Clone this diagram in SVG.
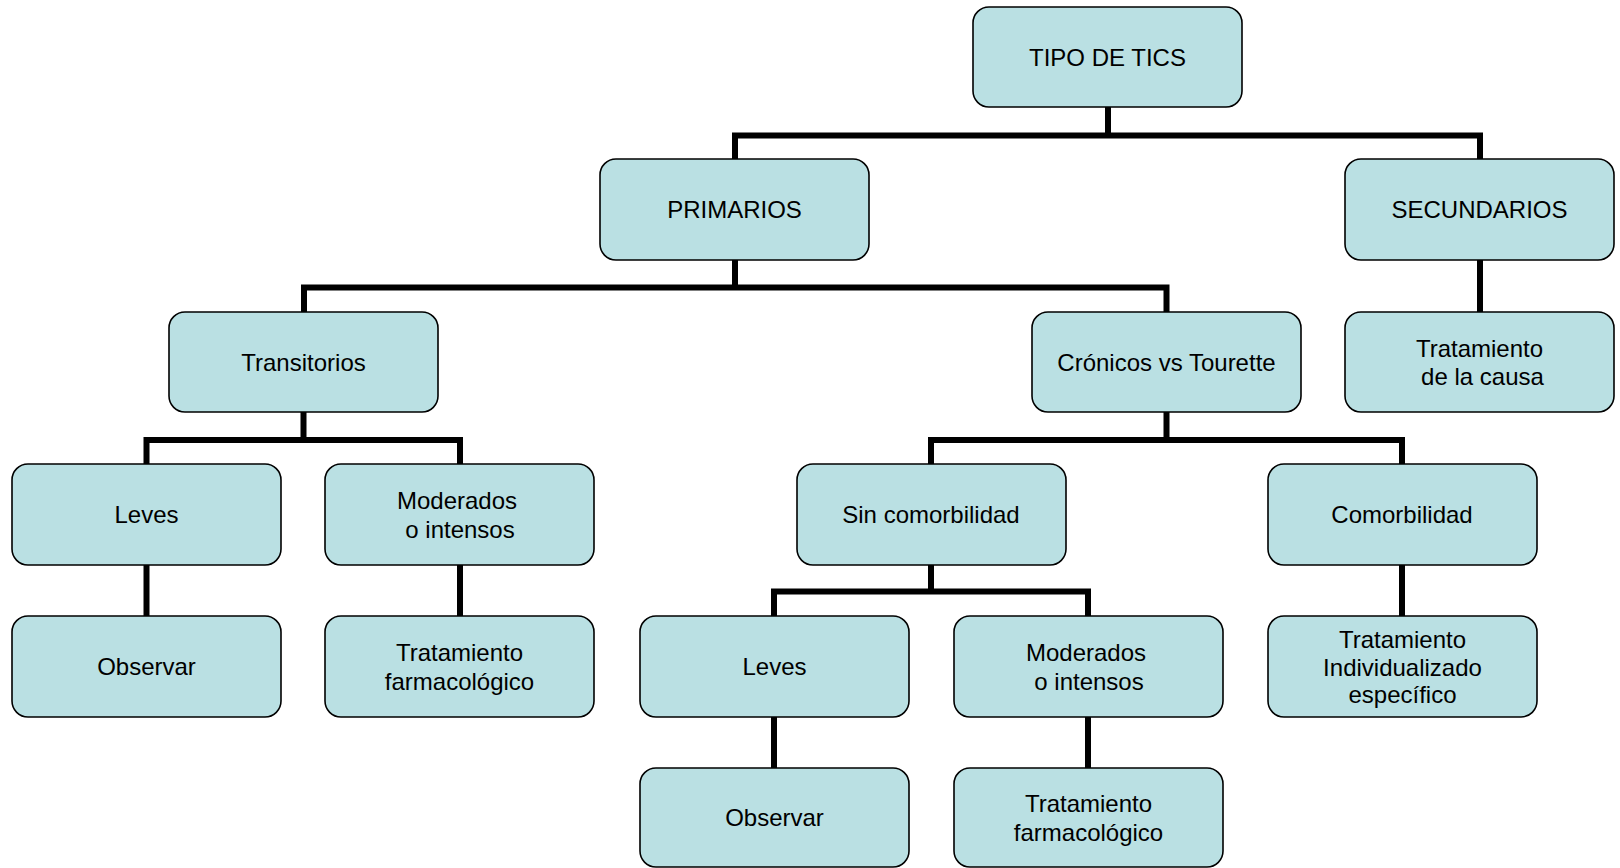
<svg xmlns="http://www.w3.org/2000/svg" width="1620" height="868" viewBox="0 0 1620 868">
<style>
.box{fill:#BAE0E3;stroke:#000;stroke-width:1.6}
.t{font-family:"Liberation Sans",Arial,sans-serif;font-size:24px;fill:#000;text-anchor:middle}
.c{fill:none;stroke:#000;stroke-width:6;stroke-linejoin:miter;stroke-linecap:butt}
</style>
<rect width="1620" height="868" fill="#fff"/>
<g id="connectors">
<path class="c" d="M1108,107 V138.5 M735,159 V135.5 H1480 V159"/>
<path class="c" d="M735,260 V290 M304,312 V287.5 H1166.5 V312"/>
<path class="c" d="M1480,260 V312"/>
<path class="c" d="M303.5,412 V442.5 M146.5,464 V440 H460 V464"/>
<path class="c" d="M1166.5,412 V442.5 M931,464 V440 H1402 V464"/>
<path class="c" d="M146.5,565 V616"/>
<path class="c" d="M460,565 V616"/>
<path class="c" d="M931,565 V594 M774,616 V591.5 H1088 V616"/>
<path class="c" d="M1402,565 V616"/>
<path class="c" d="M774,717 V768"/>
<path class="c" d="M1088,717 V768"/>
</g>
<g id="n-tipo"><rect class="box" x="973" y="7" width="269" height="100" rx="16"/><text class="t" x="1107.5" y="66">TIPO DE TICS</text></g>
<g id="n-primarios"><rect class="box" x="600" y="159" width="269" height="101" rx="16"/><text class="t" x="734.5" y="218">PRIMARIOS</text></g>
<g id="n-secundarios"><rect class="box" x="1345" y="159" width="269" height="101" rx="16"/><text class="t" x="1479.5" y="218">SECUNDARIOS</text></g>
<g id="n-transitorios"><rect class="box" x="169" y="312" width="269" height="100" rx="16"/><text class="t" x="303.5" y="371">Transitorios</text></g>
<g id="n-cronicos"><rect class="box" x="1032" y="312" width="269" height="100" rx="16"/><text class="t" x="1166.5" y="371">Crónicos vs Tourette</text></g>
<g id="n-causa"><rect class="box" x="1345" y="312" width="269" height="100" rx="16"/><text class="t" x="1479.5" y="357">Tratamiento</text><text class="t" x="1482.5" y="385">de la causa</text></g>
<g id="n-leves1"><rect class="box" x="12" y="464" width="269" height="101" rx="16"/><text class="t" x="146.5" y="523">Leves</text></g>
<g id="n-moderados1"><rect class="box" x="325" y="464" width="269" height="101" rx="16"/><text class="t" x="457" y="509">Moderados</text><text class="t" x="460" y="538">o intensos</text></g>
<g id="n-sincomorb"><rect class="box" x="797" y="464" width="269" height="101" rx="16"/><text class="t" x="931" y="523">Sin comorbilidad</text></g>
<g id="n-comorb"><rect class="box" x="1268" y="464" width="269" height="101" rx="16"/><text class="t" x="1402" y="523">Comorbilidad</text></g>
<g id="n-observar1"><rect class="box" x="12" y="616" width="269" height="101" rx="16"/><text class="t" x="146.5" y="675">Observar</text></g>
<g id="n-farm1"><rect class="box" x="325" y="616" width="269" height="101" rx="16"/><text class="t" x="459.5" y="661">Tratamiento</text><text class="t" x="459.5" y="690">farmacológico</text></g>
<g id="n-leves2"><rect class="box" x="640" y="616" width="269" height="101" rx="16"/><text class="t" x="774.5" y="675">Leves</text></g>
<g id="n-moderados2"><rect class="box" x="954" y="616" width="269" height="101" rx="16"/><text class="t" x="1086" y="661">Moderados</text><text class="t" x="1089" y="690">o intensos</text></g>
<g id="n-individual"><rect class="box" x="1268" y="616" width="269" height="101" rx="16"/><text class="t" x="1402.5" y="648">Tratamiento</text><text class="t" x="1402.5" y="675.5">Individualizado</text><text class="t" x="1402.5" y="703">específico</text></g>
<g id="n-observar2"><rect class="box" x="640" y="768" width="269" height="99" rx="16"/><text class="t" x="774.5" y="826">Observar</text></g>
<g id="n-farm2"><rect class="box" x="954" y="768" width="269" height="99" rx="16"/><text class="t" x="1088.5" y="812">Tratamiento</text><text class="t" x="1088.5" y="841">farmacológico</text></g>
</svg>
